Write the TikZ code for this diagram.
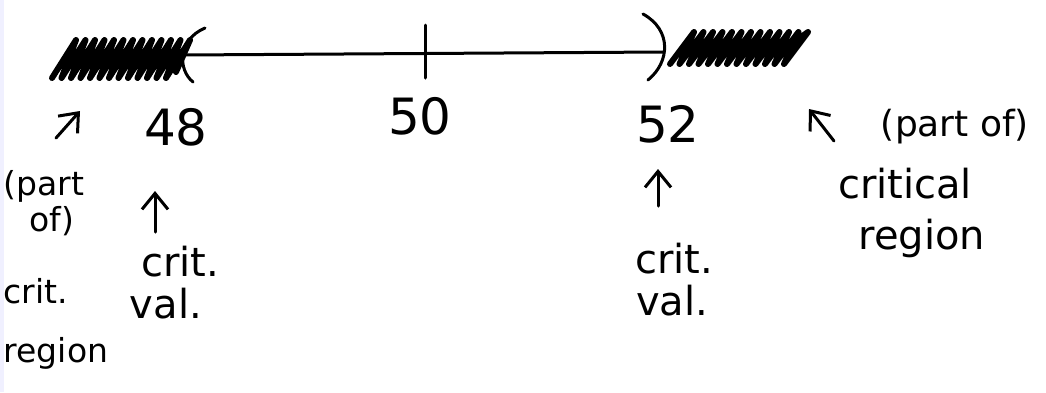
\documentclass[tikz,border=0pt]{standalone}
\usepackage{fontspec}
\setmainfont{DejaVu Sans}
\usetikzlibrary{arrows.meta}
\begin{document}
\begin{tikzpicture}[x=1pt,y=-1pt,
  ink/.style={line cap=round,line join=round,black},
  hatch/.style={ink,line width=6pt},
  axis/.style={ink,line width=3pt},
  pointer/.style={ink,line width=3pt,-{Straight Barb[length=16pt,width=26pt]}},
  num/.style={inner sep=0pt,font=\fontsize{50}{50}\selectfont},
  big/.style={inner sep=0pt,font=\fontsize{40}{40}\selectfont},
  mid/.style={inner sep=0pt,font=\fontsize{36}{36}\selectfont},
  small/.style={inner sep=0pt,font=\fontsize{33}{33}\selectfont}]
\useasboundingbox (0,0) rectangle (1046,392);
\fill[blue!6] (0,0) rectangle (4,392);
% hatched critical regions
\draw[hatch] (52,78) \foreach \i in {0,...,12} { -- ({52+9.5*\i},78) -- ({76+9.5*\i},40) } -- (176,72);
\draw[hatch] (670,64) \foreach \i in {0,...,12} { -- ({670+9.5*\i},64) -- ({694+9.5*\i},32) } -- (797,40);
% axis line with brackets and tick
\coordinate (L) at (183,55);
\coordinate (R) at (663,52);
\draw[axis] (L) -- (R);
\draw[axis] (205,28) .. controls (177,40) and (178,70) .. (193,82);
\draw[axis] (643,14) .. controls (672,30) and (670,62) .. (648,80);
\coordinate (tt) at (425,25);
\coordinate (tb) at (425,78);
\draw[axis] (tt) -- (tb);
% numbers
\node[num] (n48) at (176,127) {48};
\node[num] (n50) at (420,116) {50};
\node[num] (n52) at (668,124) {52};
% left labels
\node[small] (lp1) at (44,186) {(part};
\node[small] (lp2) at (52,221) {of)};
\node[small] (lp3) at (36,291) {crit.};
\node[small] (lp4) at (56,353) {region};
% crit val labels
\node[big] (cv1a) at (180,262) {crit.};
\node[big] (cv1b) at (166,304) {val.};
\node[big] (cv2a) at (674,259) {crit.};
\node[big] (cv2b) at (672,301) {val.};
% right labels
\node[mid] (rp) at (955,127) {(part of)};
\node[big] (rc) at (905,184) {critical};
\node[big] (rr) at (922,238) {region};
% arrows
\coordinate (a1s) at (56,138);
\coordinate (a1e) at (80,111);
\draw[pointer] (a1s) -- (a1e);
\coordinate (a2s) at (155,232);
\coordinate (a2e) at (155,191);
\draw[pointer] (a2s) -- (a2e);
\coordinate (a3s) at (658,206);
\coordinate (a3e) at (658,169);
\draw[pointer] (a3s) -- (a3e);
\coordinate (a4s) at (834,141);
\coordinate (a4e) at (809,109);
\draw[pointer] (a4s) -- (a4e);
\end{tikzpicture}
\end{document}
